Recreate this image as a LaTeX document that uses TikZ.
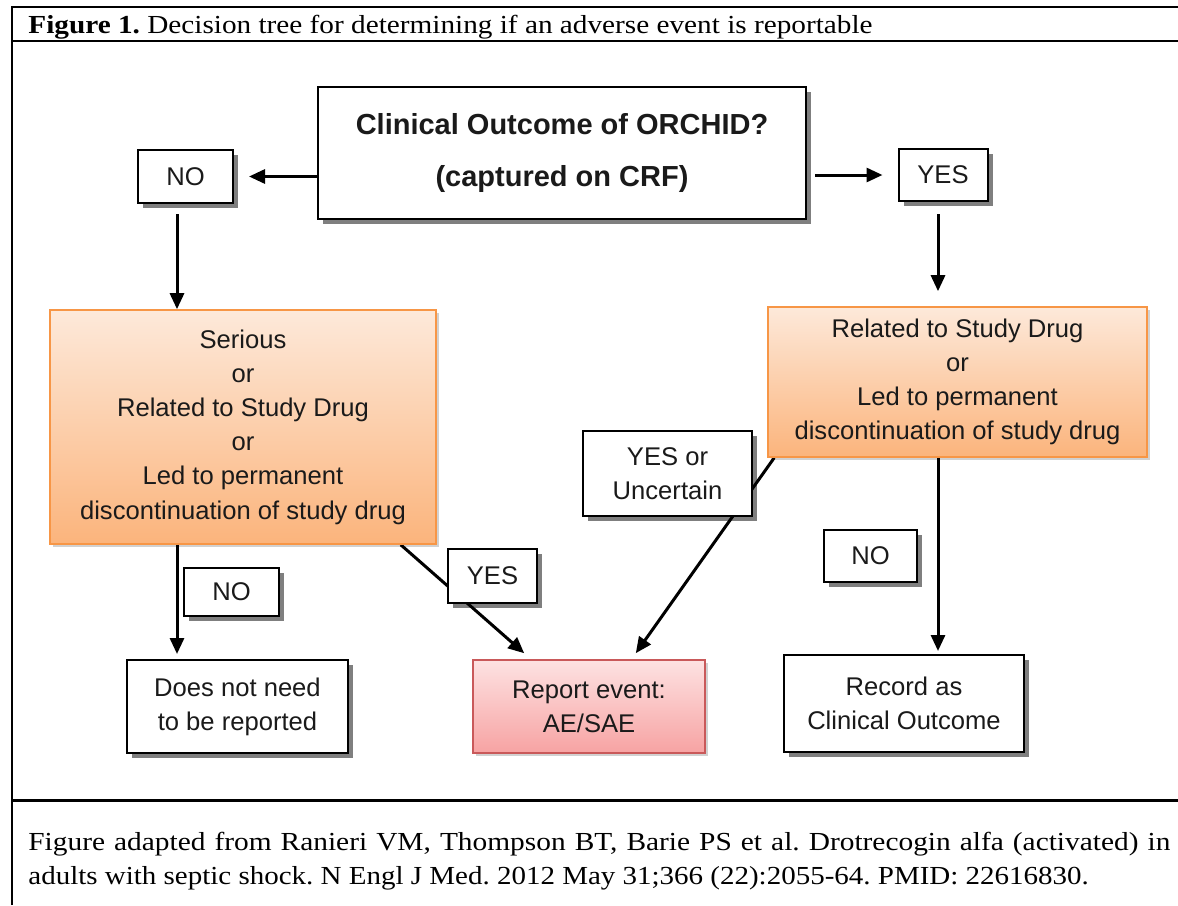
\documentclass[tikz,border=0pt]{standalone}
\usepackage{graphicx}
\usepackage{fontspec}
\setmainfont{Liberation Serif}
\newfontfamily\arialf{Liberation Sans}
\frenchspacing
\usetikzlibrary{calc,shadows,arrows.meta}
\pgfdeclarelayer{back}
\pgfdeclarelayer{bg}
\pgfsetlayers{back,bg,main}
\definecolor{orborder}{HTML}{F79646}
\definecolor{ortop}{HTML}{FDE9DA}
\definecolor{orbot}{HTML}{FBB47C}
\definecolor{pktop}{HTML}{FDE2E2}
\definecolor{pkbot}{HTML}{F7A3A3}
\definecolor{pkborder}{HTML}{C9595A}
\definecolor{txt}{HTML}{1A1A1A}
\begin{document}
\begin{tikzpicture}[x=0.5pt,y=-0.5pt,
  sz/.style 2 args={minimum width={#1*0.5pt},minimum height={#2*0.5pt}},
  basebox/.style={inner sep=0pt,align=center,text=txt,font=\arialf\fontsize{12.8}{17.1}\selectfont},
  wbox/.style={basebox,draw=black,line width=1pt,fill=white,
    drop shadow={shadow xshift=2.5pt,shadow yshift=-2.5pt,fill=black,opacity=0.5}},
  obox/.style={basebox,draw=orborder,line width=0.8pt,top color=ortop,bottom color=orbot,
    drop shadow={shadow xshift=1.5pt,shadow yshift=-1.5pt,fill=black,opacity=0.18}},
  pbox/.style={basebox,draw=pkborder,line width=0.8pt,top color=pktop,bottom color=pkbot,
    drop shadow={shadow xshift=1.5pt,shadow yshift=-1.5pt,fill=black,opacity=0.18}},
  arr/.style={line width=1.5pt,-{Triangle[length=8pt,width=7pt]}},
  frameline/.style={line width=1pt},
  serif/.style={anchor=base west,inner sep=0pt,font=\fontsize{13}{16}\selectfont}
]
\begin{pgfonlayer}{back}
\fill[white] (0,0) rectangle (1178,905);
\end{pgfonlayer}
\useasboundingbox (0,0) rectangle (1178,905);

% frame
\draw[frameline] (12,905) -- (12,7) -- (1178,7);
\draw[frameline] (12,41) -- (1178,41);
\draw[line width=1.5pt] (12,800) -- (1178,800);

% header and footer
\node[serif] (hdr) at (28,33)
  {\scalebox{1.125}[1]{\textbf{Figure 1.} Decision tree for determining if an adverse event is reportable}};
\node[serif] (ft1) at (28,850)
  {\scalebox{1.13}[1]{\makebox[505.3pt][s]{Figure adapted from Ranieri VM, Thompson BT, Barie PS et al. Drotrecogin alfa (activated) in}}};
\node[serif] (ft2) at (28,884)
  {\scalebox{1.115}[1]{adults with septic shock. N Engl J Med. 2012 May 31;366 (22):2055-64. PMID: 22616830.}};

% nodes
\node[wbox,sz={488}{132},font=\arialf\bfseries\fontsize{14.5}{26}\selectfont] (top) at (562,153)
  {Clinical Outcome of ORCHID?\\(captured on CRF)};
\node[wbox,sz={95}{53}] (noL) at (185.5,176.5) {NO};
\node[wbox,sz={89}{52}] (yesR) at (943,175) {YES};
\node[obox,sz={386}{234}] (orL) at (243,427)
  {Serious\\or\\Related to Study Drug\\or\\Led to permanent\\discontinuation of study drug};
\node[obox,sz={379}{150}] (orR) at (957.5,382)
  {Related to Study Drug\\or\\Led to permanent\\discontinuation of study drug};
\node[wbox,sz={169}{85}] (yu) at (667.5,473.5) {YES or\\Uncertain};
\node[wbox,sz={89}{54}] (yesL) at (492.5,576) {YES};
\node[wbox,sz={95}{48}] (noL2) at (231.5,592) {NO};
\node[wbox,sz={93}{52}] (noR2) at (870.5,556) {NO};
\node[wbox,sz={221}{93}] (dnn) at (237.5,706.5) {Does not need\\to be reported};
\node[pbox,sz={232}{93}] (rep) at (589,706.5) {Report event:\\AE/SAE};
\node[wbox,sz={240}{97}] (rec) at (904,703.5) {Record as\\Clinical Outcome};

% connectors
\draw[arr,shorten >=7.5pt] (top.west |- noL.east) -- (noL.east);
\draw[arr,shorten <=4pt,shorten >=7.5pt] (top.east |- yesR.west) -- (yesR.west);
\coordinate (n1) at ($(noL.south)+(-8.5,10)$);
\draw[arr] (n1) -- (n1 |- orL.north);
\coordinate (y1) at ($(yesR.south)+(-5,12)$);
\draw[arr,shorten >=7.5pt] (y1) -- (y1 |- orR.north);
\draw[arr,shorten >=2.5pt] (orL.south -| n1) -- (dnn.north -| n1);
\draw[arr,shorten >=1.5pt] (orR.south -| y1) -- (rec.north -| y1);
\begin{pgfonlayer}{bg}
\draw[arr] ($(orL.south east)+(-36,0)$) -- ($(rep.north west)+(52,-6)$);
\draw[arr] ($(orR.south west)+(7,0)$) -- ($(rep.north east)+(-70,-6)$);
\end{pgfonlayer}
\end{tikzpicture}
\end{document}
